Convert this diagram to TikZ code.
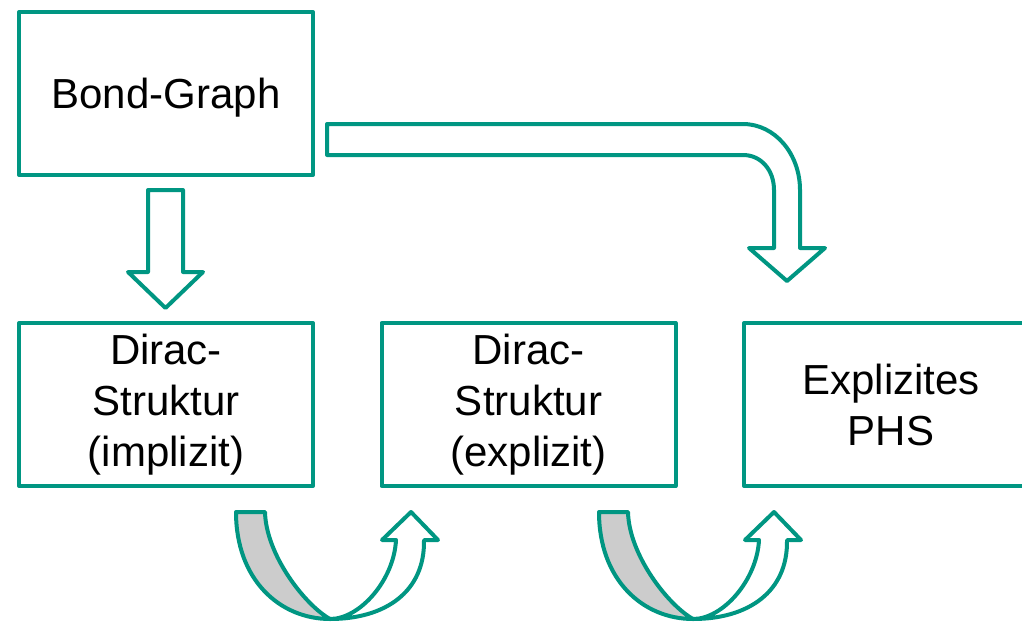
\documentclass[tikz,border=0pt]{standalone}
\usepackage{fontspec}
\setmainfont{Liberation Sans}
\definecolor{kitgreen}{RGB}{0,150,130}
\definecolor{backgray}{RGB}{204,204,204}

\begin{document}
\begin{tikzpicture}[x=0.5pt,y=-0.5pt,node distance=181.25pt,line join=round,
    box/.style={draw=kitgreen,line width=2pt,minimum width=147pt,minimum height=81.5pt,
      inner sep=0pt,align=center,font=\fontsize{21}{25.5}\selectfont},
    blockarrow/.style={draw=kitgreen,line width=2pt,fill=white}]
  \clip (0,0) rectangle (1022,621);
  \node[box,text depth=0pt] (bg) at (166,93.5) {Bond-Graph};
  \node[box] (dsi) at (166,404.5) {Dirac-\\Struktur\\(implizit)};
  \node[box] (dse) [right of=dsi] {Dirac-\\Struktur\\(explizit)};
  \node[box] (phs) [right of=dse] {Explizites\\PHS};
  % Bond-Graph nach unten
  \draw[blockarrow] (148,190) -- (183,190) -- (183,272) -- (203,272) -- (165.5,308)
    -- (128,272) -- (148,272) -- cycle;
  % Bond-Graph direkt zum PHS
  \draw[blockarrow] (327,124) -- (743,124) .. controls (775,124) and (800,154) .. (800,190)
    -- (800,248) -- (825,248) -- (787,281) -- (749,248) -- (774,248) -- (774,190)
    .. controls (774,170) and (761,155) .. (743,155) -- (327,155) -- cycle;
  % Umformungsschritte
  \foreach \dx in {0,363} {
    \begin{scope}[shift={(\dx,0)}]
      \draw[blockarrow,fill=backgray] (236,512) -- (265,512)
        .. controls (266,555) and (305,605) .. (330,619)
        .. controls (280,619) and (236,580) .. (236,512) -- cycle;
      \draw[blockarrow] (330,619) .. controls (385,619) and (425,592) .. (424,540)
        -- (438,540) -- (411,512) -- (382,540) -- (396,540)
        .. controls (394,580) and (360,619) .. (330,619) -- cycle;
    \end{scope}
  }
\end{tikzpicture}
\end{document}
